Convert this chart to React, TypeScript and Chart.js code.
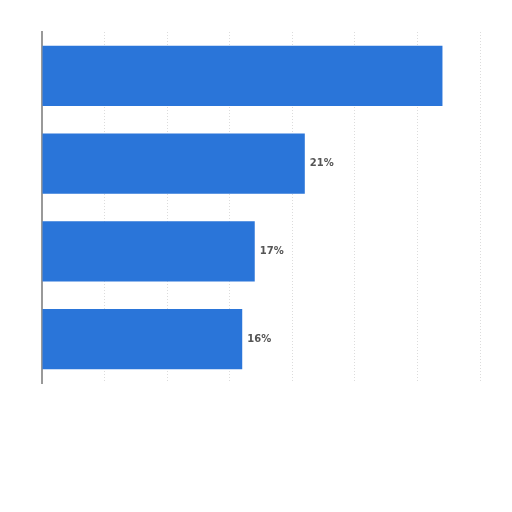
import { useEffect, useRef } from 'react';
import { Chart, registerables } from 'chart.js';

Chart.register(...registerables);

const categories = ['A', 'B', 'C', 'D'];
const shares = [32, 21, 17, 16];
const valueLabels = ['', '21%', '17%', '16%'];

const barLabels = {
  id: 'barLabels',
  afterDatasetsDraw(chart: Chart) {
    const { ctx } = chart;
    const meta = chart.getDatasetMeta(0);
    ctx.save();
    ctx.font = 'bold 10px "DejaVu Sans", sans-serif';
    ctx.fillStyle = '#555';
    ctx.textAlign = 'left';
    ctx.textBaseline = 'middle';
    meta.data.forEach((bar: any, i: number) => {
      if (valueLabels[i]) ctx.fillText(valueLabels[i], bar.x + 5, bar.y);
    });
    ctx.restore();
  },
};

const App = () => {
  const chartRef = useRef<HTMLCanvasElement | null>(null);
  const chartInstance = useRef<Chart | null>(null);

  useEffect(() => {
    if (!chartRef.current) return;
    const ctx = chartRef.current.getContext('2d');
    if (!ctx) return;
    if (chartInstance.current) chartInstance.current.destroy();

    chartInstance.current = new Chart(ctx, {
      type: 'bar',
      data: {
        labels: categories,
        datasets: [
          {
            data: shares,
            backgroundColor: '#2a75d9',
            barPercentage: 0.685,
            categoryPercentage: 1,
          },
        ],
      },
      options: {
        indexAxis: 'y',
        animation: false,
        responsive: true,
        maintainAspectRatio: false,
        layout: { padding: { left: 42, right: 32, top: 32, bottom: 129 } },
        plugins: { legend: { display: false }, tooltip: { enabled: false } },
        scales: {
          x: {
            min: 0,
            max: 35,
            ticks: { display: false, stepSize: 5 },
            grid: { color: '#dcdcdc', drawTicks: false },
            border: { display: false, dash: [1, 2] },
          },
          y: {
            ticks: { display: false },
            grid: { display: false, drawTicks: false },
            border: { display: true, color: '#999', width: 2 },
          },
        },
      },
      plugins: [barLabels],
    });

    return () => {
      if (chartInstance.current) {
        chartInstance.current.destroy();
        chartInstance.current = null;
      }
    };
  }, []);

  return (
    <div style={{ position: 'fixed', left: 0, top: 0, width: '512px', height: '512px', background: '#fff' }}>
      <canvas ref={chartRef} />
    </div>
  );
};

export default App;
